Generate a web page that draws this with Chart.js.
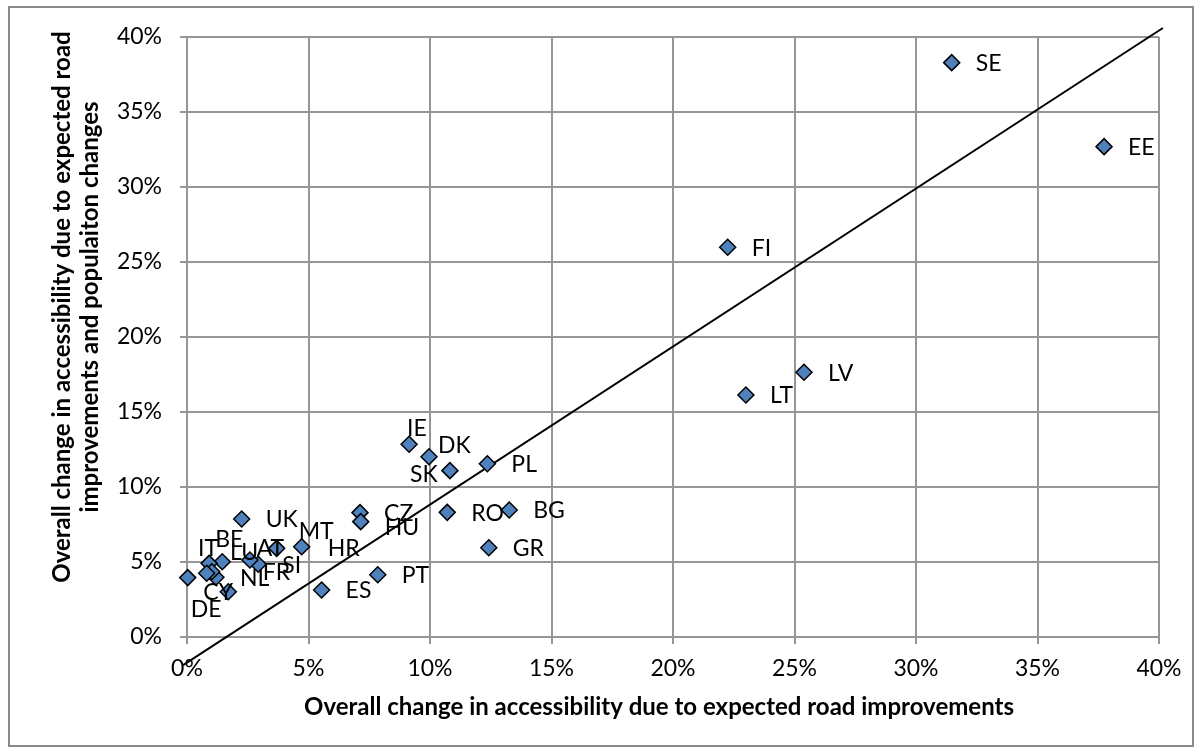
<!DOCTYPE html>
<html>
<head>
<meta charset="utf-8">
<title>Accessibility change: road improvements vs. road + population</title>
<script src="https://cdn.jsdelivr.net/npm/chart.js@4.4.1/dist/chart.umd.min.js"></script>
<style>
  html, body { margin: 0; padding: 0; background: #ffffff; }
  #wrap { width: 1203px; height: 756px; position: relative; }
</style>
</head>
<body>
<div id="wrap"><canvas id="chart" width="1203" height="756"></canvas></div>
<script>
// Country codes (point labels)
const countries = ['SE', 'EE', 'FI', 'LV', 'LT', 'IE', 'DK', 'SK', 'PL', 'CZ', 'HU', 'RO', 'BG', 'GR',
  'PT', 'ES', 'UK', 'MT', 'AT', 'SI', 'LU', 'BE', 'IT', 'NL', 'FR', 'HR', 'CY', 'DE'];

// Change in accessibility due to road improvements (%), x values
const roadChange = [31.47, 37.74, 22.25, 25.39, 23.0, 9.14, 9.96, 10.82, 12.36, 7.12, 7.15, 10.71, 13.26, 12.42,
  7.85, 5.54, 2.25, 4.72, 3.69, 2.93, 2.59, 1.45, 0.91, 1.19, 1.02, 0.81, 1.70, 0.03];

// Change in accessibility due to road improvements and population changes (%), y values
const roadPopChange = [38.29, 32.69, 25.98, 17.65, 16.13, 12.85, 12.02, 11.09, 11.55, 8.29, 7.69, 8.31, 8.47, 5.95,
  4.15, 3.13, 7.87, 6.02, 5.91, 4.85, 5.13, 5.02, 4.91, 3.98, 4.35, 4.25, 3.02, 3.96];

// Reference line end points (%)
const refLineX = [-0.16, 40.16];
const refLineY = [-1.87, 40.6];

// Axis ticks (%)
const xTicks = [0, 5, 10, 15, 20, 25, 30, 35, 40];
const yTicks = [0, 5, 10, 15, 20, 25, 30, 35, 40];

const FONT = 'Lato, "Open Sans", sans-serif';
const GRID = '#969696';

// Label nudges for crowded points: [dx to left edge, dy], default is right of the marker
const labelNudge = {
  IE: [-2, -16], DK: [9, -11], SK: [-40, 4], HU: [24, 6],
  IT: [-11, -15], BE: [-7, -22], LU: [-20, -7], AT: [-20, 0], MT: [-3, -15],
  FR: [51, 1], HR: [121, -25], CY: [-25, 1], DE: [3, 32]
};

const points = roadChange.map((x, i) => ({ x: x, y: roadPopChange[i] }));
const refLine = refLineX.map((x, i) => ({ x: x, y: refLineY[i] }));

// White background and outer chart frame
const framePlugin = {
  id: 'frame',
  beforeDraw(chart) {
    const ctx = chart.ctx;
    ctx.save();
    ctx.fillStyle = '#ffffff';
    ctx.fillRect(0, 0, chart.width, chart.height);
    ctx.strokeStyle = '#8a8a8a';
    ctx.lineWidth = 2;
    ctx.strokeRect(9, 7, 1184, 739);
    ctx.restore();
  }
};

// Country code next to each marker
const pointLabelPlugin = {
  id: 'pointLabels',
  afterDatasetsDraw(chart) {
    const ctx = chart.ctx;
    const meta = chart.getDatasetMeta(0);
    ctx.save();
    ctx.font = '23px ' + FONT;
    ctx.fillStyle = '#000000';
    ctx.textAlign = 'left';
    ctx.textBaseline = 'middle';
    meta.data.forEach((el, i) => {
      const code = countries[i];
      const nudge = labelNudge[code] || [24, 1];
      ctx.fillText(code, el.x + nudge[0], el.y + nudge[1]);
    });
    ctx.restore();
  }
};

// Axis titles
const axisTitlePlugin = {
  id: 'axisTitles',
  afterDraw(chart) {
    const ctx = chart.ctx;
    ctx.save();
    ctx.font = 'bold 24px ' + FONT;
    ctx.fillStyle = '#000000';
    ctx.textAlign = 'center';
    ctx.textBaseline = 'middle';
    ctx.fillText('Overall change in accessibility due to expected road improvements', 659, 707);
    ctx.translate(62, 307);
    ctx.rotate(-Math.PI / 2);
    ctx.fillText('Overall change in accessibility due to expected road', 0, 0);
    ctx.fillText('improvements and populaiton changes', 0, 28);
    ctx.restore();
  }
};

new Chart(document.getElementById('chart'), {
  type: 'scatter',
  data: {
    datasets: [
      {
        label: 'Countries',
        data: points,
        pointStyle: 'rectRot',
        pointRadius: 8,
        pointHoverRadius: 8,
        backgroundColor: '#4f81bd',
        borderColor: '#000000',
        borderWidth: 1.5,
        clip: false,
        order: 1
      },
      {
        label: 'Reference',
        type: 'line',
        data: refLine,
        showLine: true,
        pointRadius: 0,
        borderColor: '#000000',
        borderWidth: 2,
        fill: false,
        clip: false,
        order: 2
      }
    ]
  },
  options: {
    responsive: false,
    animation: false,
    devicePixelRatio: 1,
    layout: { padding: { left: 0, right: 44, top: 37, bottom: 0 } },
    plugins: {
      legend: { display: false },
      tooltip: { enabled: false }
    },
    scales: {
      x: {
        type: 'linear',
        min: xTicks[0],
        max: xTicks[xTicks.length - 1],
        afterFit: (s) => { s.height = 119; },
        afterBuildTicks: (s) => { s.ticks = xTicks.map(v => ({ value: v })); },
        ticks: {
          color: '#000000',
          padding: 11,
          font: { family: FONT, size: 23 },
          callback: (v) => v + '%'
        },
        grid: { color: GRID, lineWidth: 2, tickLength: 7, tickColor: GRID },
        border: { color: GRID, width: 2 }
      },
      y: {
        type: 'linear',
        min: yTicks[0],
        max: yTicks[yTicks.length - 1],
        afterFit: (s) => { s.width = 187; },
        afterBuildTicks: (s) => { s.ticks = yTicks.map(v => ({ value: v })); },
        ticks: {
          color: '#000000',
          padding: 18,
          font: { family: FONT, size: 23 },
          callback: (v) => v + '%'
        },
        grid: { color: GRID, lineWidth: 2, tickLength: 7, tickColor: GRID },
        border: { color: GRID, width: 2 }
      }
    }
  },
  plugins: [framePlugin, pointLabelPlugin, axisTitlePlugin]
});
</script>
</body>
</html>
